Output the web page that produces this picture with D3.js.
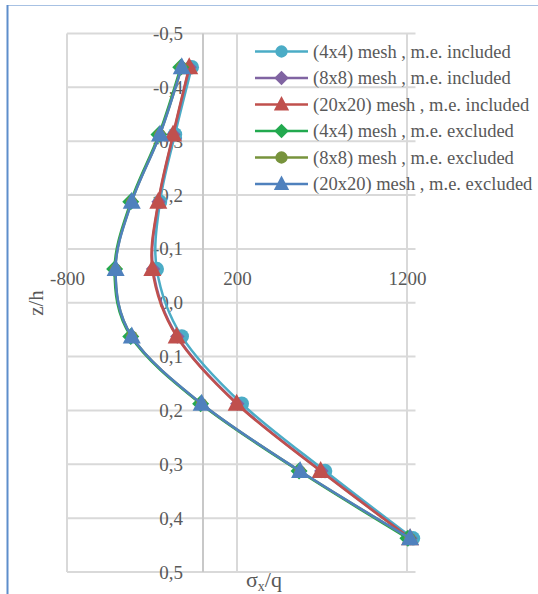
<!DOCTYPE html>
<html>
<head>
<meta charset="utf-8">
<script src="https://cdn.jsdelivr.net/npm/d3@7"></script>
<style>
  html, body { margin: 0; padding: 0; background: #fff; }
  svg { display: block; }
  text { font-family: "Liberation Serif", "Times New Roman", serif; fill: #595959; }
</style>
</head>
<body>
<svg id="chart" width="538" height="594"></svg>
<script>
// ---- data ----
const zPos = [-0.4375, -0.3125, -0.1875, -0.0625, 0.0625, 0.1875, 0.3125, 0.4375];
const inc4x4  = [-66, -165, -253, -272, -125, 228, 718, 1235];
const inc8x8  = [-79, -174, -261, -294, -151, 202, 696, 1220];
const inc20x20 = [-81, -176, -263, -298, -155, 198, 692, 1218];
const exc4x4  = [-131, -259, -425, -520, -425, -14, 565, 1205];
const exc8x8  = [-126, -254, -420, -515, -419, -9, 570, 1216];
const exc20x20 = [-125, -253, -419, -514, -419, -8, 571, 1218];
const seriesNames = [
  "(4x4) mesh , m.e. included",
  "(8x8) mesh , m.e. included",
  "(20x20) mesh , m.e. included",
  "(4x4) mesh , m.e. excluded",
  "(8x8) mesh , m.e. excluded",
  "(20x20) mesh , m.e. excluded"
];
const xTicks = [-800, 200, 1200];
const yTicks = [-0.5, -0.4, -0.3, -0.2, -0.1, 0.0, 0.1, 0.2, 0.3, 0.4, 0.5];
const xTitle = "σ";
const xTitleSub = "x";
const xTitleTail = "/q";
const yTitle = "z/h";

// ---- styles ----
const colors = ["#4BACC6", "#8064A2", "#C0504D", "#22A94F", "#77933C", "#4F81BD"];
const markers = ["circle", "diamond", "triangle", "diamond", "circle", "triangle"];
const markerScale = [1, 0.85, 1, 1, 0.8, 1];
const seriesValues = [inc4x4, inc8x8, inc20x20, exc4x4, exc8x8, exc20x20];

const svg = d3.select("#chart");

// chart border (cropped frame)
svg.append("line").attr("x1", 7).attr("x2", 538).attr("y1", 5.5).attr("y2", 5.5)
  .attr("stroke", "#A7C1E3").attr("stroke-width", 1);
svg.append("line").attr("x1", 7.5).attr("x2", 7.5).attr("y1", 5).attr("y2", 594)
  .attr("stroke", "#5E8ECB").attr("stroke-width", 2);

const x = d3.scaleLinear().domain([-800, 1250]).range([67, 415.5]);
const y = d3.scaleLinear().domain([-0.5, 0.5]).range([33.5, 572]);

const grid = "#D9D9D9";
svg.append("g").selectAll("line").data(yTicks).join("line")
  .attr("x1", x(-800)).attr("x2", x(1250))
  .attr("y1", d => y(d)).attr("y2", d => y(d))
  .attr("stroke", grid).attr("stroke-width", 2);
svg.append("g").selectAll("line").data(xTicks).join("line")
  .attr("x1", d => x(d)).attr("x2", d => x(d))
  .attr("y1", y(-0.5)).attr("y2", y(0.5))
  .attr("stroke", grid).attr("stroke-width", 2);
svg.append("line").attr("x1", x(0)).attr("x2", x(0)).attr("y1", y(-0.5)).attr("y2", y(0.5))
  .attr("stroke", "#C8C8C8").attr("stroke-width", 2);

const loc = d3.formatLocale({decimal: ",", thousands: " ", grouping: [3], currency: ["", ""], minus: "-"});
const fy = loc.format(".1f");
const fx = loc.format("d");

const yAx = svg.append("g").attr("transform", `translate(${x(0)},0)`)
  .call(d3.axisLeft(y).tickValues(yTicks).tickFormat(fy).tickSize(0).tickPadding(20));
yAx.select(".domain").remove();
yAx.selectAll("text").attr("font-size", 19).attr("font-family", "Liberation Serif").attr("fill", "#595959");

const xAx = svg.append("g").attr("transform", `translate(0,${y(0)})`)
  .call(d3.axisTop(x).tickValues(xTicks).tickFormat(fx).tickSize(0).tickPadding(18));
xAx.select(".domain").remove();
xAx.selectAll("text").attr("font-size", 19).attr("font-family", "Liberation Serif").attr("fill", "#595959");

svg.append("text").attr("transform", "translate(43,303) rotate(-90)")
  .attr("text-anchor", "middle").attr("font-size", 21).text(yTitle);
const xt = svg.append("text").attr("x", 264).attr("y", 587).attr("text-anchor", "middle").attr("font-size", 22);
xt.append("tspan").text(xTitle);
xt.append("tspan").attr("font-size", 14).attr("dy", 4).text(xTitleSub);
xt.append("tspan").attr("dy", -4).text(xTitleTail);

const line = d3.line().curve(d3.curveCardinal.tension(0)).x(d => x(d[0])).y(d => y(d[1]));

function markerPath(type, s) {
  if (type === "circle") return d3.symbol(d3.symbolCircle, 165 * s * s)();
  if (type === "diamond") { const h = 8.5 * s; return `M0,${-h}L${h},0L0,${h}L${-h},0Z`; }
  return `M0,${-10 * s}L${9 * s},${7 * s}L${-9 * s},${7 * s}Z`;
}

seriesValues.forEach((vals, i) => {
  const pts = vals.map((v, k) => [v, zPos[k]]);
  const g = svg.append("g");
  g.append("path").attr("d", line(pts)).attr("fill", "none")
    .attr("stroke", colors[i]).attr("stroke-width", 2.5).attr("stroke-linejoin", "round");
  g.selectAll("path.m").data(pts).join("path").attr("class", "m")
    .attr("transform", d => `translate(${x(d[0])},${y(d[1])})`)
    .attr("d", markerPath(markers[i], markerScale[i])).attr("fill", colors[i]);
});

const leg = svg.append("g");
seriesNames.forEach((name, i) => {
  const cy = 51.5 + i * 26.5;
  const r = leg.append("g").attr("transform", `translate(0,${cy})`);
  r.append("line").attr("x1", 255).attr("x2", 308).attr("y1", 0).attr("y2", 0)
    .attr("stroke", colors[i]).attr("stroke-width", 2.5);
  r.append("path").attr("transform", "translate(281.5,0)").attr("d", markerPath(markers[i], 0.85)).attr("fill", colors[i]);
  r.append("text").attr("x", 313).attr("y", 0).attr("dy", "0.33em").attr("font-size", 18.5).text(name);
});
</script>
</body>
</html>
